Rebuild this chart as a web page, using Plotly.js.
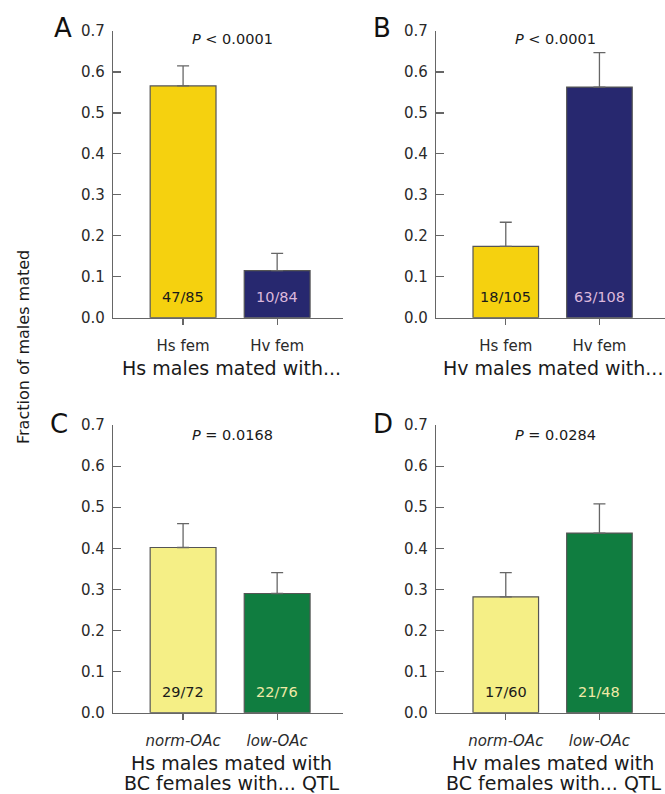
<!DOCTYPE html>
<html>
<head>
<meta charset="utf-8">
<script src="https://cdn.plot.ly/plotly-3.0.1.min.js"></script>
<style>html,body{margin:0;padding:0;background:#fff;}#chart{width:665px;height:794px;}</style>
</head>
<body>
<div id="chart"></div>
<script>
// ---- data ----
const categoriesTop = ['Hs fem', 'Hv fem'];
const categoriesBottom = ['norm-OAc', 'low-OAc'];

const valuesA = [0.566, 0.115];
const errorsA = [0.049, 0.042];
const countsA = ['47/85', '10/84'];

const valuesB = [0.174, 0.563];
const errorsB = [0.059, 0.084];
const countsB = ['18/105', '63/108'];

const valuesC = [0.402, 0.290];
const errorsC = [0.058, 0.051];
const countsC = ['29/72', '22/76'];

const valuesD = [0.282, 0.437];
const errorsD = [0.059, 0.071];
const countsD = ['17/60', '21/48'];

const panelLetters = ['A', 'B', 'C', 'D'];
const pTexts = ['<i>P</i> &lt; 0.0001', '<i>P</i> &lt; 0.0001', '<i>P</i> = 0.0168', '<i>P</i> = 0.0284'];
const xTitles = [
  ['Hs males mated with...'],
  ['Hv males mated with...'],
  ['Hs males mated with', 'BC females with... QTL'],
  ['Hv males mated with', 'BC females with... QTL']
];
const yTitle = 'Fraction of males mated';
const yTickVals = [0, 0.1, 0.2, 0.3, 0.4, 0.5, 0.6, 0.7];

// ---- styling ----
const FONT = 'DejaVu Sans, Liberation Sans, Arial, sans-serif';
const W = 665, H = 794;
const colTop = ['#F5D10F', '#27286F'];
const colBottom = ['#F5EF86', '#107D40'];
const countColTop = ['#1a1a1a', '#dcb8dc'];
const countColBottom = ['#1a1a1a', '#efe9a6'];
const axisColor = '#666666';

const px = x => x / W;
const py = y => 1 - y / H;

const panels = [
  {cats: categoriesTop, vals: valuesA, errs: errorsA, counts: countsA, colors: colTop, tcol: countColTop, italic: false},
  {cats: categoriesTop, vals: valuesB, errs: errorsB, counts: countsB, colors: colTop, tcol: countColTop, italic: false},
  {cats: categoriesBottom, vals: valuesC, errs: errorsC, counts: countsC, colors: colBottom, tcol: countColBottom, italic: true},
  {cats: categoriesBottom, vals: valuesD, errs: errorsD, counts: countsD, colors: colBottom, tcol: countColBottom, italic: true}
];

// pixel geometry of plot areas
const colX = [[113, 343], [436, 665]];
const rowY = [[31, 317.7], [425, 712.7]];

const traces = [];
const layout = {
  width: W, height: H, autosize: false,
  margin: {l: 0, r: 0, t: 0, b: 0, pad: 0},
  paper_bgcolor: '#fff', plot_bgcolor: 'rgba(0,0,0,0)',
  showlegend: false,
  font: {family: FONT, color: '#2a2a2a', size: 15},
  annotations: []
};

panels.forEach((p, i) => {
  const col = i % 2, row = Math.floor(i / 2);
  const sfx = i === 0 ? '' : String(i + 1);
  const xa = 'x' + sfx, ya = 'y' + sfx;
  traces.push({
    type: 'bar', x: p.cats, y: p.vals, xaxis: xa, yaxis: ya,
    width: 0.70,
    marker: {color: p.colors, line: {color: '#555555', width: 1.2}},
    error_y: {type: 'data', symmetric: false, array: p.errs, arrayminus: p.errs.map(() => 0),
              color: axisColor, thickness: 1.3, width: 6},
    hoverinfo: 'skip'
  });
  const [x0, x1] = colX[col], [y0, y1] = rowY[row];
  layout['xaxis' + sfx] = {
    domain: [px(x0), px(x1)], anchor: ya,
    type: 'category', range: [-0.745, 1.7],
    tickvals: p.cats,
    ticktext: p.cats.map(c => p.italic ? '<i>' + c + '</i>' : c),
    ticks: 'outside', ticklen: 6, tickwidth: 1.2, tickcolor: axisColor,
    showline: true, linecolor: axisColor, linewidth: 1.2,
    showgrid: false, zeroline: false,
    tickfont: {family: FONT, size: 15, color: '#2a2a2a'},
    ticklabelstandoff: 8, fixedrange: true
  };
  layout['yaxis' + sfx] = {
    domain: [py(y1), py(y0)], anchor: xa,
    range: [0, 0.7], tickvals: yTickVals, tickformat: '.1f',
    ticks: 'inside', ticklen: 8, tickwidth: 1.2, tickcolor: axisColor,
    showline: true, linecolor: axisColor, linewidth: 1.2,
    showgrid: false, zeroline: false,
    tickfont: {family: FONT, size: 15, color: '#2a2a2a'},
    ticklabelstandoff: 4, fixedrange: true
  };
  // counts inside bars
  p.cats.forEach((c, j) => {
    layout.annotations.push({
      xref: xa, yref: ya, x: c, y: 0, yanchor: 'middle', xanchor: 'center',
      yshift: 21, text: p.counts[j], showarrow: false,
      font: {family: FONT, size: 14.5, color: p.tcol[j]}
    });
  });
  // P value
  const pCx = [232, 555][col], pCy = [39, 435][row];
  layout.annotations.push({
    xref: 'paper', yref: 'paper', x: px(pCx), y: py(pCy), xanchor: 'center', yanchor: 'middle',
    text: pTexts[i], showarrow: false, font: {family: FONT, size: 14.5, color: '#1a1a1a'}
  });
  // panel letter
  const lCx = [[62.5, 381.7], [58.5, 383]][row][col], lCy = [28, 424][row];
  layout.annotations.push({
    xref: 'paper', yref: 'paper', x: px(lCx), y: py(lCy), xanchor: 'center', yanchor: 'middle',
    text: panelLetters[i], showarrow: false, font: {family: FONT, size: 26, color: '#111'}
  });
  // x titles (one annotation per line)
  const tCx = [231, 553][col];
  const firstY = [368.3, 763][row];
  xTitles[i].forEach((line, k) => {
    layout.annotations.push({
      xref: 'paper', yref: 'paper', x: px(tCx), y: py(firstY + k * 20), xanchor: 'center', yanchor: 'middle',
      text: line, showarrow: false, font: {family: FONT, size: 19, color: '#1a1a1a'}
    });
  });
});

// shared y title
layout.annotations.push({
  xref: 'paper', yref: 'paper', x: px(23), y: py(347), xanchor: 'center', yanchor: 'middle',
  text: yTitle, textangle: -90, showarrow: false, font: {family: FONT, size: 16, color: '#1a1a1a'}
});

Plotly.newPlot('chart', traces, layout, {staticPlot: true, displayModeBar: false});
</script>
</body>
</html>
